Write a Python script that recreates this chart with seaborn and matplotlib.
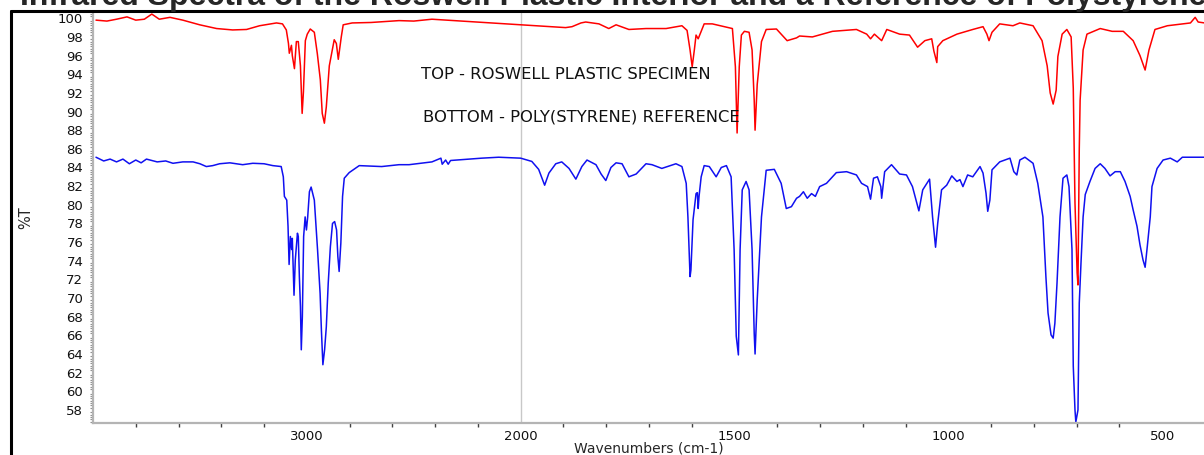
import numpy as np
import pandas as pd
import matplotlib
matplotlib.use("Agg")
import matplotlib.pyplot as plt
from matplotlib.ticker import FixedLocator, MultipleLocator
from matplotlib.lines import Line2D
import seaborn as sns

# ---------------- data ----------------
title = "Infrared Spectra of the Roswell Plastic Interior and a Reference of Polystyrene"
top_note = "TOP - ROSWELL PLASTIC SPECIMEN"
bottom_note = "BOTTOM - POLY(STYRENE) REFERENCE"
x_label = "Wavenumbers (cm-1)"
y_label = "%T"
x_major = [3000, 2000, 1500, 1000, 500]
x_minor = [3800, 3600, 3400, 3200, 2800, 2600, 2400, 2200,
           1900, 1800, 1700, 1600, 1400, 1300, 1200, 1100,
           900, 800, 700, 600, 400]
y_major = list(range(58, 101, 2))

red_wn = [3986, 3935, 3890, 3841, 3800, 3760, 3725, 3690, 3640, 3580, 3501, 3422, 3347,
          3282, 3221, 3142, 3114, 3096, 3086, 3082, 3072, 3068, 3058, 3049, 3040, 3030,
          3022, 3016, 3007, 2998, 2984, 2965, 2951, 2937, 2928, 2918, 2909, 2895, 2881,
          2872, 2862, 2853, 2839, 2830, 2788, 2700, 2569, 2500, 2415, 2000, 1895, 1880,
          1859, 1848, 1817, 1794, 1777, 1747, 1707, 1660, 1623, 1611, 1604, 1599, 1594,
          1590, 1585, 1578, 1571, 1552, 1505, 1498, 1496, 1494, 1489, 1484, 1477, 1466,
          1459, 1454, 1452, 1447, 1437, 1426, 1402, 1377, 1355, 1348, 1318, 1271, 1215,
          1191, 1182, 1173, 1156, 1144, 1114, 1091, 1072, 1055, 1039, 1034, 1027, 1025,
          1013, 980, 943, 919, 910, 905, 898, 880, 849, 833, 802, 781, 769, 762, 755, 748,
          744, 734, 723, 713, 708, 704, 699, 697, 694, 692, 685, 676, 645, 617, 591, 568,
          552, 540, 531, 517, 488, 434, 423, 416, 401]
red_t = [99.8, 99.7, 99.9, 100.15, 99.8, 99.9, 100.45, 99.9, 100.1, 99.8, 99.3, 98.9, 98.75,
         98.8, 99.2, 99.5, 99.4, 98.75, 97.3, 96.25, 97.1, 96.0, 94.6, 97.5, 97.5, 94.9,
         89.8, 92.1, 97.6, 98.3, 98.85, 98.5, 96.2, 93.4, 89.8, 88.75, 90.5, 94.9, 96.6,
         97.7, 97.3, 95.6, 98.0, 99.3, 99.5, 99.55, 99.75, 99.7, 99.9, 99.3, 99.0, 99.1,
         99.5, 99.6, 99.4, 98.9, 99.3, 98.8, 98.9, 98.9, 99.2, 98.7, 96.6, 94.8, 96.6,
         98.2, 97.8, 98.6, 99.4, 99.4, 98.9, 94.8, 91.2, 87.7, 94.8, 98.2, 98.6, 98.5,
         96.6, 91.2, 88.0, 92.9, 97.5, 98.8, 98.85, 97.6, 97.9, 98.1, 98.0, 98.6, 98.8,
         98.3, 97.8, 98.3, 97.6, 98.8, 98.3, 98.2, 96.9, 97.6, 97.8, 96.5, 95.25, 96.96,
         97.6, 98.3, 98.8, 99.1, 98.3, 97.6, 98.5, 99.4, 99.2, 99.5, 99.2, 97.6, 94.9,
         92.0, 90.8, 92.3, 95.9, 98.3, 98.8, 98.0, 92.5, 80.2, 72.7, 71.4, 85.9, 91.2,
         96.6, 98.3, 98.9, 98.6, 98.6, 97.6, 96.0, 94.45, 96.6, 98.8, 99.2, 99.5, 100.1,
         99.6, 99.5]

blue_wn = [3986, 3950, 3920, 3890, 3860, 3830, 3800, 3775, 3750, 3700, 3660, 3626, 3580,
           3532, 3500, 3470, 3440, 3408, 3360, 3300, 3253, 3200, 3159, 3120, 3110, 3105,
           3094, 3088, 3083, 3077, 3071, 3068, 3060, 3054, 3044, 3040, 3035, 3030, 3026,
           3021, 3015, 3008, 3002, 2996, 2988, 2980, 2965, 2950, 2938, 2932, 2925, 2917,
           2909, 2900, 2890, 2880, 2870, 2861, 2855, 2849, 2841, 2833, 2825, 2802, 2755,
           2650, 2569, 2522, 2415, 2373, 2367, 2351, 2339, 2328, 2182, 2103, 2000, 1974,
           1958, 1944, 1934, 1918, 1904, 1887, 1871, 1857, 1845, 1824, 1812, 1801, 1789,
           1777, 1763, 1747, 1730, 1707, 1693, 1670, 1637, 1623, 1613, 1609, 1604, 1602,
           1597, 1590, 1587, 1585, 1583, 1578, 1571, 1559, 1543, 1531, 1519, 1508, 1501,
           1496, 1491, 1487, 1482, 1473, 1466, 1459, 1454, 1452, 1447, 1437, 1426, 1407,
           1391, 1379, 1367, 1355, 1348, 1339, 1330, 1320, 1311, 1301, 1285, 1262, 1238,
           1215, 1203, 1189, 1182, 1175, 1166, 1158, 1156, 1149, 1133, 1114, 1098, 1084,
           1069, 1060, 1044, 1037, 1030, 1025, 1016, 1004, 992, 980, 973, 966, 955, 943,
           926, 919, 912, 908, 903, 898, 880, 856, 847, 840, 833, 821, 802, 791, 779, 772,
           767, 760, 755, 751, 746, 739, 732, 723, 718, 711, 708, 704, 702, 697, 694, 690,
           685, 680, 669, 657, 645, 634, 622, 610, 598, 587, 575, 568, 559, 552, 545, 540,
           535, 528, 524, 512, 498, 481, 465, 453, 401]
blue_t = [85.1, 84.7, 84.9, 84.6, 84.9, 84.4, 84.8, 84.5, 84.9, 84.6, 84.7, 84.45, 84.6,
          84.6, 84.4, 84.1, 84.2, 84.4, 84.5, 84.3, 84.45, 84.4, 84.2, 84.1, 83.0, 80.9,
          80.5, 77.7, 73.6, 76.6, 75.2, 76.4, 70.3, 74.1, 76.95, 76.6, 72.3, 69.1, 64.45,
          68.0, 76.6, 78.7, 77.3, 78.7, 81.4, 81.9, 80.5, 75.2, 70.5, 66.6, 62.85, 64.45,
          66.9, 71.6, 75.5, 78.0, 78.2, 77.3, 74.45, 72.85, 75.9, 80.9, 82.85, 83.45, 84.2,
          84.1, 84.3, 84.3, 84.6, 85.0, 84.35, 84.8, 84.35, 84.75, 85.0, 85.1, 85.0, 84.65,
          83.8, 82.1, 83.4, 84.4, 84.6, 83.9, 82.75, 84.1, 84.8, 84.3, 83.3, 82.6, 84.0,
          84.5, 84.4, 83.0, 83.3, 84.4, 84.3, 83.9, 84.4, 84.1, 82.3, 78.7, 72.3, 73.0,
          78.4, 81.2, 81.3, 79.6, 80.9, 83.0, 84.2, 84.1, 83.0, 84.0, 84.2, 83.0, 75.2,
          65.9, 63.9, 75.2, 81.6, 82.5, 81.6, 75.2, 66.2, 64.0, 69.8, 78.7, 83.7, 83.8,
          82.3, 79.6, 79.8, 80.7, 80.9, 81.4, 80.7, 81.2, 80.9, 81.95, 82.3, 83.45, 83.55,
          83.2, 82.3, 81.95, 80.6, 82.85, 83.0, 81.95, 80.7, 83.55, 84.3, 83.3, 83.2, 81.95,
          79.35, 81.6, 82.75, 78.7, 75.45, 78.0, 81.6, 82.1, 83.1, 82.5, 82.7, 81.95, 83.2,
          83.0, 84.1, 83.4, 81.25, 79.3, 80.5, 83.75, 84.6, 85.0, 83.55, 83.2, 84.8, 85.1,
          84.45, 82.3, 78.7, 72.3, 68.4, 66.05, 65.7, 67.3, 71.6, 78.7, 82.85, 83.2, 81.95,
          75.2, 62.7, 58.0, 56.7, 58.0, 69.45, 73.7, 78.7, 81.1, 82.5, 83.9, 84.4, 83.9,
          83.1, 83.55, 83.55, 82.5, 80.9, 79.45, 77.7, 75.7, 74.1, 73.3, 75.5, 78.7, 81.95,
          83.9, 84.8, 85.0, 84.6, 85.1, 85.1]

red_df = pd.DataFrame({"wn": red_wn, "T": red_t})
blue_df = pd.DataFrame({"wn": blue_wn, "T": blue_t})

# ---------------- figure ----------------
sns.set_style("white")
plt.rcParams["font.family"] = ["DejaVu Sans"]

W, H = 1204, 455
fig = plt.figure(figsize=(W / 100, H / 100), dpi=100)
ax = fig.add_axes([93 / W, (H - 423) / H, (1205 - 93) / W, (423 - 12.5) / H])

sns.lineplot(data=blue_df, x="wn", y="T", sort=False, estimator=None,
             color="#1010f0", lw=1.1, ax=ax)
sns.lineplot(data=red_df, x="wn", y="T", sort=False, estimator=None,
             color="#ff0000", lw=1.1, ax=ax)

def fwd(w):
    w = np.asarray(w, dtype=float)
    return np.where(w > 2000, 2000 + (w - 2000) / 2.0, w)

def inv(u):
    u = np.asarray(u, dtype=float)
    return np.where(u > 2000, 2000 + (u - 2000) * 2.0, u)

ax.set_xscale("function", functions=(fwd, inv))
ax.set_xlim(4000, 400)
ax.set_ylim(56.6, 100.62)

ax.axvline(2000, color="#c8c8c8", lw=1.0, zorder=0)

ax.xaxis.set_major_locator(FixedLocator(x_major))
ax.xaxis.set_minor_locator(FixedLocator(x_minor))
ax.set_xticklabels([str(v) for v in x_major])
ax.yaxis.set_major_locator(FixedLocator(y_major))
ax.yaxis.set_minor_locator(MultipleLocator(0.25))
ax.set_yticklabels([str(v) for v in y_major])

ax.tick_params(axis="both", which="major", length=4, width=1, color="#404040",
               labelsize=9.5, labelcolor="#111111", direction="out")
ax.tick_params(axis="y", which="minor", length=2, width=0.8, color="#909090", left=True)
ax.tick_params(axis="x", which="minor", length=3, width=1, color="#404040", bottom=True)
ax.tick_params(axis="x", which="major", pad=1)
ax.tick_params(axis="y", which="major", pad=3)

for s in ["top", "right"]:
    ax.spines[s].set_visible(False)
for s in ["left", "bottom"]:
    ax.spines[s].set_color("#b4b4b4")
    ax.spines[s].set_linewidth(1.6)

ax.set_xlabel(x_label, fontsize=10, va="top")
ax.xaxis.set_label_coords(0.5, (423 - 441.5) / (423 - 12.5))
ax.set_ylabel(y_label, fontsize=10.5)
ax.yaxis.set_label_coords((33 - 93) / (1205 - 93), 0.5)

ax.text(0.295, 0.848, top_note, transform=ax.transAxes, fontsize=11.8,
        ha="left", va="center", color="#111111")
ax.text(0.297, 0.745, bottom_note, transform=ax.transAxes, fontsize=11.8,
        ha="left", va="center", color="#111111")

# outer frame and title
fig.add_artist(Line2D([10.5 / W, 1.01], [1 - 10.5 / H, 1 - 10.5 / H],
                      transform=fig.transFigure, color="black", lw=2.2))
fig.add_artist(Line2D([10.5 / W, 10.5 / W], [-0.01, 1 - 10.5 / H],
                      transform=fig.transFigure, color="black", lw=2.2))
fig.text(20 / W, 1 - 5 / H, title, fontsize=23, fontweight="bold",
         family=["Liberation Sans", "DejaVu Sans"], ha="left", va="baseline")

fig.savefig("out.png", dpi=100)
